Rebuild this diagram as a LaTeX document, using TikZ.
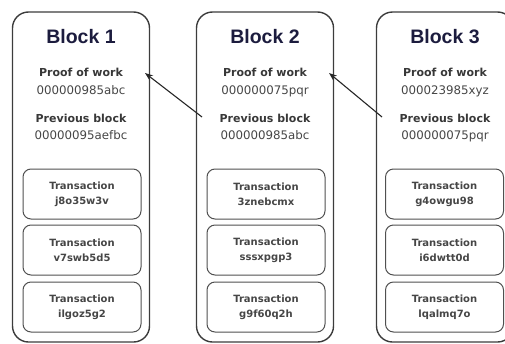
\documentclass[tikz,border=0pt]{standalone}
\usepackage{fontspec}
\setmainfont{DejaVu Sans}
\newfontfamily\titlefont{Liberation Sans}
\usetikzlibrary{arrows.meta}
\definecolor{titlecol}{RGB}{28,28,62}
\definecolor{txtcol}{RGB}{70,70,70}
\definecolor{edgecol}{RGB}{60,60,60}
\tikzset{
  blockbox/.style={draw=edgecol, line width=1.4pt, rounded corners=16pt, minimum width=137pt, minimum height=330pt, inner sep=0pt},
  txbox/.style={draw=edgecol!90, line width=1pt, rounded corners=8pt, minimum width=118pt, minimum height=50pt, inner sep=0pt, align=center, text=txtcol, font=\fontsize{10pt}{15pt}\selectfont\bfseries},
  titletxt/.style={anchor=base, text=titlecol, font=\titlefont\fontsize{19.5pt}{22pt}\selectfont\bfseries, inner sep=0pt},
  headtxt/.style={anchor=base, text=txtcol!80!black, font=\fontsize{11pt}{13pt}\selectfont\bfseries, inner sep=0pt},
  hashtxt/.style={anchor=base, text=txtcol, font=\fontsize{11.8pt}{13pt}\selectfont, inner sep=0pt},
  linkarrow/.style={-{Stealth[length=8pt,width=6pt]}, line width=1.1pt, black!85}
}
\begin{document}
\begin{tikzpicture}[x=1pt,y=-1pt]
\useasboundingbox (0,0) rectangle (505,343);
\begin{scope}
\clip (0,0) rectangle (505,343);
% blocks
\node[blockbox] (b1) at (81,177) {};
\node[blockbox] (b2) at (265,177) {};
\node[blockbox] (b3) at (445,177) {};
% titles
\node[titletxt] (t1) at (81,43) {Block 1};
\node[titletxt] (t2) at (265,43) {Block 2};
\node[titletxt] (t3) at (445,43) {Block 3};
% proof of work
\node[headtxt] (p1) at (81,76.5) {Proof of work};
\node[headtxt] (p2) at (265,76.5) {Proof of work};
\node[headtxt] (p3) at (445,76.5) {Proof of work};
\node[hashtxt] (ph1) at (81,94) {000000985abc};
\node[hashtxt] (ph2) at (265,94) {000000075pqr};
\node[hashtxt] (ph3) at (445,94) {000023985xyz};
% previous block
\node[headtxt] (v1) at (81,122.5) {Previous block};
\node[headtxt] (v2) at (265,122.5) {Previous block};
\node[headtxt] (v3) at (445,122.5) {Previous block};
\node[hashtxt] (vh1) at (81,139.5) {00000095aefbc};
\node[hashtxt] (vh2) at (265,139.5) {000000985abc};
\node[hashtxt] (vh3) at (445,139.5) {000000075pqr};
% transactions
\node[txbox] (x11) at (82,194) {Transaction\\j8o35w3v};
\node[txbox] (x12) at (82,250) {Transaction\\v7swb5d5};
\node[txbox] (x13) at (82,307) {Transaction\\ilgoz5g2};
\node[txbox] (x21) at (266,194) {Transaction\\3znebcmx};
\node[txbox] (x22) at (266,250) {Transaction\\sssxpgp3};
\node[txbox] (x23) at (266,307) {Transaction\\g9f60q2h};
\node[txbox] (x31) at (444.5,194) {Transaction\\g4owgu98};
\node[txbox] (x32) at (444.5,250) {Transaction\\i6dwtt0d};
\node[txbox] (x33) at (444.5,307) {Transaction\\lqalmq7o};
% arrow end points
\coordinate (s2) at (202,117);
\coordinate (e1) at (145,73);
\coordinate (s3) at (382,117);
\coordinate (e2) at (329,73);
\draw[linkarrow] (s2) -- (e1);
\draw[linkarrow] (s3) -- (e2);
\end{scope}
\end{tikzpicture}
\end{document}
